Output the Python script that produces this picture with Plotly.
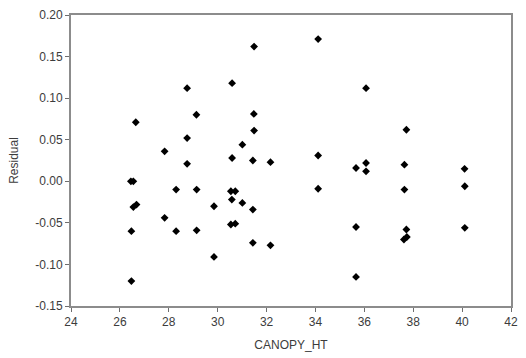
import plotly.graph_objects as go

canopy_ht = [
    26.65, 27.83, 28.75, 31.49, 30.59, 34.11, 29.13, 31.48, 28.75, 31.49,
    31.01, 30.59, 31.44, 32.16, 34.11, 28.75, 35.66, 36.07, 37.72, 36.07,
    36.07, 37.64, 40.10,
    26.45, 26.55, 26.55, 26.68, 26.47, 26.47, 28.30, 27.83, 28.30,
    29.14, 30.54, 30.72, 30.58, 31.01, 29.85, 31.44, 30.54, 30.72,
    29.14, 31.44, 32.16, 29.85, 34.11, 35.66, 35.66, 37.64, 40.11,
    37.72, 37.62, 37.74, 40.11,
]
residual = [
    0.071, 0.036, 0.112, 0.162, 0.118, 0.171, 0.080, 0.081, 0.052, 0.061,
    0.044, 0.028, 0.025, 0.023, 0.031, 0.021, 0.016, 0.112, 0.062, 0.022,
    0.012, 0.020, 0.015,
    0.000, 0.000, -0.031, -0.028, -0.060, -0.120, -0.010, -0.044, -0.060,
    -0.010, -0.012, -0.012, -0.022, -0.026, -0.030, -0.034, -0.052, -0.051,
    -0.059, -0.074, -0.077, -0.091, -0.009, -0.055, -0.115, -0.010, -0.006,
    -0.058, -0.070, -0.067, -0.056,
]

x_ticks = [24, 26, 28, 30, 32, 34, 36, 38, 40, 42]
y_ticks = [-0.15, -0.10, -0.05, 0.00, 0.05, 0.10, 0.15, 0.20]

font = dict(family="Liberation Sans, Arial", size=12, color="#3c3c3c")

fig = go.Figure()
fig.add_trace(go.Scatter(
    x=canopy_ht, y=residual, mode="markers",
    marker=dict(symbol="diamond", size=6, color="black", line=dict(width=0)),
    showlegend=False, hoverinfo="x+y",
))

axis_common = dict(
    showgrid=False, zeroline=False, showline=True, linecolor="#8c8c8c",
    linewidth=2, mirror=True, ticks="outside", ticklen=4, tickwidth=1,
    tickcolor="#6e6e6e", tickfont=font,
)

fig.update_xaxes(
    range=[24, 42], tickvals=x_ticks, ticktext=[str(t) for t in x_ticks],
    title=dict(text="CANOPY_HT", font=font, standoff=12),
    **axis_common,
)
fig.update_yaxes(
    range=[-0.15, 0.20], tickvals=y_ticks, ticktext=[f"{t:.2f}" for t in y_ticks],
    title=dict(text="Residual", font=font, standoff=14),
    **axis_common,
)

fig.update_layout(
    width=526, height=358,
    margin=dict(l=71, r=8, t=13, b=52),
    paper_bgcolor="white", plot_bgcolor="white",
)

fig.write_html("out.html")
